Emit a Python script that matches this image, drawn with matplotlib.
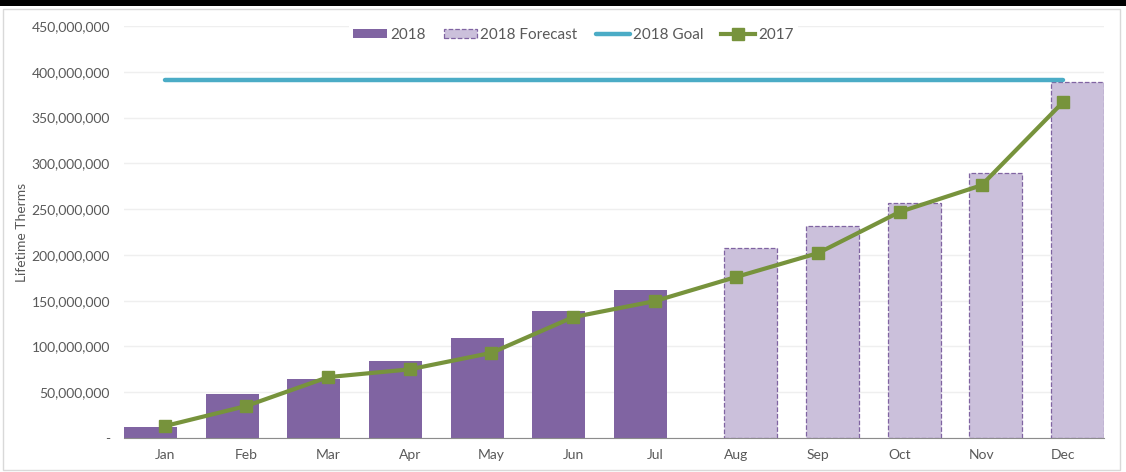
import matplotlib.pyplot as plt
from matplotlib.ticker import FuncFormatter
from matplotlib.patches import Rectangle
import numpy as np

months = ['Jan', 'Feb', 'Mar', 'Apr', 'May', 'Jun', 'Jul', 'Aug', 'Sep', 'Oct', 'Nov', 'Dec']
actual_2018 = [12e6, 48e6, 64.5e6, 84e6, 109e6, 139e6, 162e6]
forecast_2018 = [207.5e6, 231.5e6, 257e6, 289.5e6, 389e6]
goal_2018 = [391e6] * 12
values_2017 = [13e6, 35e6, 66.5e6, 75e6, 93e6, 132e6, 149.5e6, 176e6, 202e6, 247e6, 276e6, 367e6]

plt.rcParams['font.family'] = ['Lato', 'DejaVu Sans']

fig = plt.figure(figsize=(11.26, 4.72), dpi=100)
ax = fig.add_axes([0.110, 0.072, 0.8705, 0.873])

# outer frame and top black bar
fig.patches.append(Rectangle((0.003, 0.004), 0.992, 0.976, transform=fig.transFigure,
                             fill=False, edgecolor='#d9d9d9', linewidth=1))
fig.patches.append(Rectangle((0.0, 0.988), 1.0, 0.012, transform=fig.transFigure,
                             facecolor='black', edgecolor='none'))

x = np.arange(len(months))
n_act = len(actual_2018)
shift = 0.175  # Excel clusters the two bar series side by side with overlap

b1 = ax.bar(x[:n_act] - shift, actual_2018, width=0.65, color='#8064a2', label='2018', zorder=2)
b2 = ax.bar(x[n_act:] + shift, forecast_2018, width=0.65, color='#cbc0db', edgecolor='#8064a2',
            linestyle='--', linewidth=0.9, label='2018 Forecast', zorder=2)
l1, = ax.plot(x, goal_2018, color='#4bacc6', linewidth=3.2, solid_capstyle='round',
              label='2018 Goal', zorder=3)
l2, = ax.plot(x, values_2017, color='#77933c', linewidth=3, marker='s', markersize=8.5,
              label='2017', zorder=4)

ax.set_xlim(-0.5, len(months) - 0.5)
ax.set_ylim(0, 450e6)
ax.set_yticks(np.arange(0, 450e6 + 1, 50e6))
ax.yaxis.set_major_formatter(FuncFormatter(lambda v, p: '-' if v == 0 else f'{v:,.0f}'))
ax.set_xticks(x)
ax.set_xticklabels(months)

ax.grid(axis='y', color='#efefef', linewidth=1, zorder=0)
ax.set_axisbelow(True)
for s in ['top', 'right', 'left']:
    ax.spines[s].set_visible(False)
ax.spines['bottom'].set_color('#8c8c8c')
ax.tick_params(axis='both', length=0, colors='#595959', labelsize=10)
ax.tick_params(axis='x', pad=8)
ax.tick_params(axis='y', pad=10)

ax.set_ylabel('Lifetime Therms', color='#595959', fontsize=10, labelpad=6)
ax.yaxis.set_label_coords(-0.098, 0.5)

leg = ax.legend(handles=[b1, b2, l1, l2], loc='upper center', bbox_to_anchor=(0.4587, 1.025),
                ncol=4, frameon=True, fontsize=11, labelcolor='#595959', handlelength=2.2,
                handleheight=0.45, handletextpad=0.2, columnspacing=1.2, borderpad=0.3)
leg.get_frame().set_facecolor('white')
leg.get_frame().set_edgecolor('none')
leg.get_frame().set_alpha(1)
leg.set_zorder(5)

fig.savefig('out.png', dpi=100)
